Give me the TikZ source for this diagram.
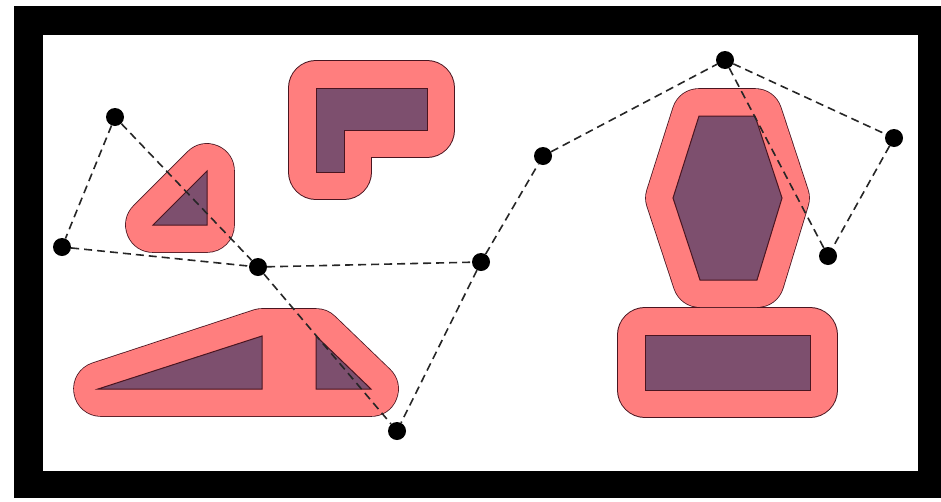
\documentclass[tikz,border=0pt]{standalone}
\usetikzlibrary{positioning}
\definecolor{cpink}{HTML}{FF7E7E}
\definecolor{cplum}{HTML}{7D4F6E}
\definecolor{cedge}{HTML}{4A1520}

\begin{document}
\begin{tikzpicture}[x=1pt, y=-1pt,
  waypt/.style={circle, fill=black, inner sep=0pt, minimum size=18pt},
  roadmap/.style={black!85, line width=1.6pt, dash pattern=on 8pt off 5pt},
  cborder/.style={cedge, line width=55.6pt, line join=round},
  cgrown/.style={cpink, fill=cpink, line width=54pt, line join=round},
  obst/.style={fill=cplum, draw=cedge, line width=1pt}]
\useasboundingbox (0,0) rectangle (941,501);

% Workspace frame
\fill[black] (14,6) rectangle (941,498);
\fill[white] (43,35) rectangle (918,471);

% Grown obstacles (configuration space)
\foreach \s in {cborder, cgrown} {
  \draw[\s] (153,225) -- (207,171) -- (207,225) -- cycle;
  \draw[\s] (316,88) -- (427,88) -- (427,130) -- (344,130) -- (344,172) -- (316,172) -- cycle;
  \draw[\s] (101,389) -- (262,336) -- (316,336) -- (371,389) -- cycle;
  \draw[\s] (699,116) -- (755,116) -- (782,198) -- (757,280) -- (700,280) -- (673,198) -- cycle;
  \draw[\s] (645,335) rectangle (810,390);
}

% Obstacles
\draw[obst] (153,225) -- (207,171) -- (207,225) -- cycle;
\draw[obst] (316,88) -- (427,88) -- (427,130) -- (344,130) -- (344,172) -- (316,172) -- cycle;
\draw[obst] (98,389) -- (262,336) -- (262,389) -- cycle;
\draw[obst] (316,336) -- (316,389) -- (371,389) -- cycle;
\draw[obst] (699,116) -- (755,116) -- (782,198) -- (757,280) -- (700,280) -- (673,198) -- cycle;
\draw[obst] (645,335) rectangle (810,390);

% Roadmap vertices
\node[waypt] (p1) at (115,117) {};
\node[waypt] (p2) at (62,247) {};
\node[waypt] (p3) at (258,267) {};
\node[waypt] (p4) at (481,262) {};
\node[waypt] (p5) at (397,431) {};
\node[waypt] (p6) at (543,156) {};
\node[waypt] (p7) at (725,60) {};
\node[waypt] (p8) at (894,138) {};
\node[waypt] (p9) at (828,256) {};

% Roadmap edges
\draw[roadmap] (p1) -- (p2);
\draw[roadmap] (p1) -- (p3);
\draw[roadmap] (p2) -- (p3);
\draw[roadmap] (p3) -- (p4);
\draw[roadmap] (p3) -- (p5);
\draw[roadmap] (p4) -- (p5);
\draw[roadmap] (p4) -- (p6);
\draw[roadmap] (p6) -- (p7);
\draw[roadmap] (p7) -- (p8);
\draw[roadmap] (p8) -- (p9);
\draw[roadmap] (p7) -- (p9);

\end{tikzpicture}
\end{document}
